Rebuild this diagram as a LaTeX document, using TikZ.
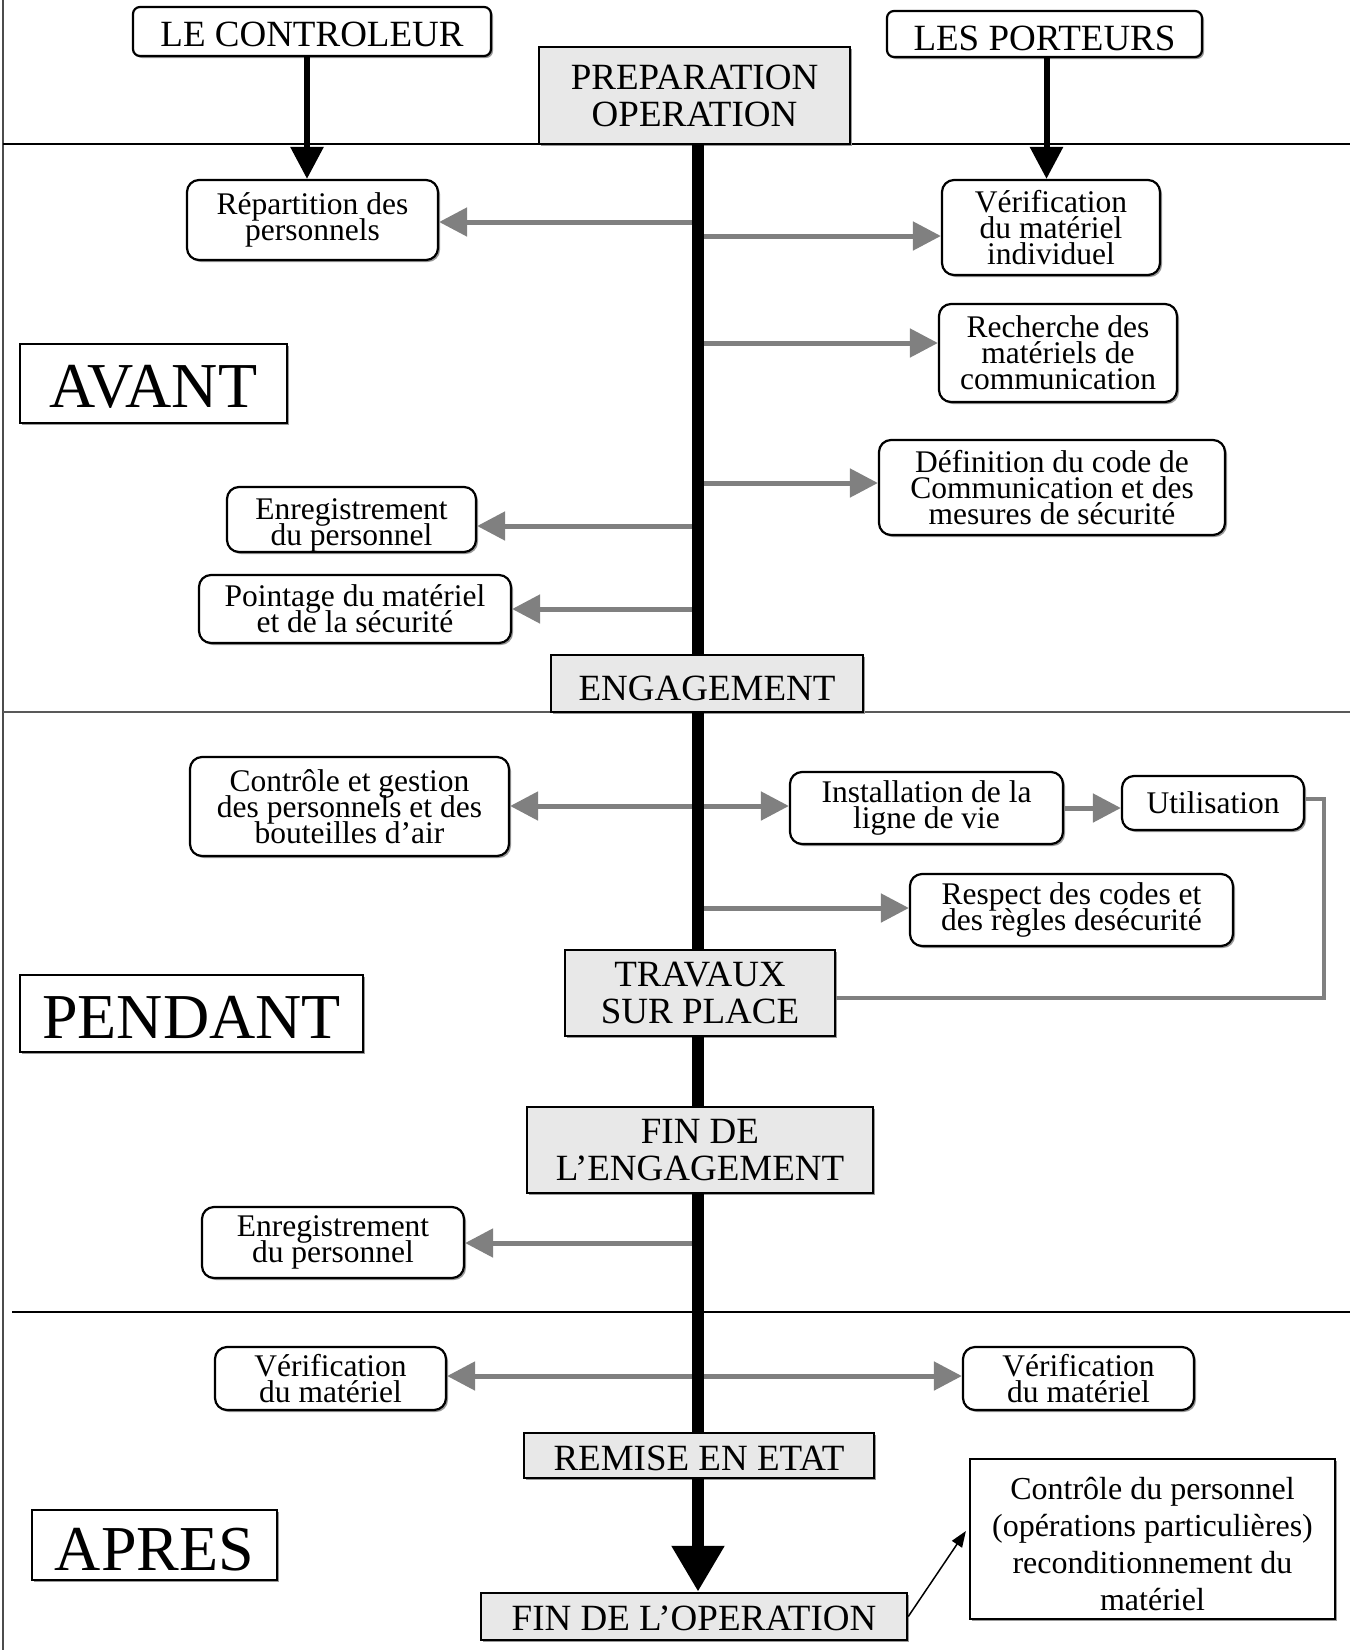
\documentclass[tikz,border=0pt]{standalone}
\usepackage{fontspec}
\setmainfont{Liberation Serif}
\usetikzlibrary{arrows.meta,shadows}
\definecolor{hgray}{HTML}{E8E8E8}
\definecolor{agray}{HTML}{808080}
\newcommand\myS{\fontsize{31.5}{26}\selectfont\lineskiplimit=-100pt\lineskip=0pt}
\newcommand\myH{\fontsize{37}{37}\selectfont\lineskiplimit=-100pt\lineskip=0pt}
\newcommand\myB{\fontsize{64}{64}\selectfont}
\newcommand\myC{\fontsize{32}{37}\selectfont\lineskiplimit=-100pt\lineskip=0pt}
\newcommand\dn[2]{\raisebox{-#1}[\height][\depth]{#2}}
\begin{document}
\begin{tikzpicture}[x=1pt,y=-1pt,
  shad/.style={drop shadow={shadow xshift=2pt,shadow yshift=-2pt,fill=black!40,opacity=1}},
  rbox/.style={draw,line width=2.2pt,rounded corners=12pt,fill=white,align=center,font=\myS,inner sep=0pt,shad},
  tbox/.style={draw,line width=2.2pt,rounded corners=7pt,fill=white,align=center,font=\myH,inner sep=0pt,shad},
  hbox/.style={draw,line width=2.5pt,fill=hgray,align=center,font=\myH,inner sep=0pt,shad},
  pbox/.style={draw,line width=2pt,fill=white,font=\myB,inner sep=0pt,shad},
  cbox/.style={draw,line width=2.2pt,fill=white,align=center,font=\myC,inner sep=0pt,shad},
  sepline/.style={line width=2pt},
  garrow/.style={draw=agray,line width=5pt,-{Triangle[length=28pt,width=28pt]},color=agray},
  gdouble/.style={draw=agray,line width=5pt,{Triangle[length=28pt,width=28pt]}-{Triangle[length=28pt,width=28pt]},color=agray},
  barrow/.style={line width=6pt,-{Triangle[length=32pt,width=32pt]}},
  spine/.style={line width=12pt},
  spinearrow/.style={line width=12pt,-{Triangle[length=46pt,width=50pt]}},
  thinarrow/.style={line width=1.5pt,-{Triangle[length=16pt,width=12pt]}},
  loopline/.style={draw=agray,line width=4pt}
]
\useasboundingbox (0,0) rectangle (1353,1650);
\fill[white] (0,0) rectangle (1353,1650);

% frame and separators
\draw[line width=1.2pt,black!70] (3,0) -- (3,1650);
\draw[sepline] (3,144) -- (1350,144);
\draw[sepline,black!65] (3,712) -- (1350,712);
\draw[sepline] (12,1312) -- (1350,1312);

% top boxes
\node[tbox,minimum width=358,minimum height=49] (lc) at (312,31.5) {\dn{3pt}{LE CONTROLEUR}};
\node[tbox,minimum width=315,minimum height=46] (lp) at (1044.5,34) {\dn{4pt}{LES PORTEURS}};
\node[hbox,minimum width=311,minimum height=97] (prep) at (694.5,95.5) {PREPARATION\\OPERATION};

% AVANT
\node[rbox,minimum width=251,minimum height=80] (rep) at (312.5,220) {Répartition des\\personnels};
\node[rbox,minimum width=218,minimum height=95] (vmi) at (1051,227.5) {Vérification\\du matériel\\individuel};
\node[rbox,minimum width=238,minimum height=98] (rmc) at (1058,353) {Recherche des\\matériels de\\communication};
\node[pbox,minimum width=267,minimum height=79] (avant) at (153.5,383.5) {\dn{3pt}{AVANT}};
\node[rbox,minimum width=346,minimum height=95] (def) at (1052,487.5) {Définition du code de\\Communication et des\\mesures de sécurité};
\node[rbox,minimum width=249,minimum height=65] (enr1) at (351.5,519.5) {\rule{0pt}{32pt}Enregistrement\\du personnel};
\node[rbox,minimum width=312,minimum height=68] (poi) at (355,609) {Pointage du matériel\\et de la sécurité};
\node[hbox,minimum width=312,minimum height=57] (eng) at (707,683.5) {\dn{5pt}{ENGAGEMENT}};

% PENDANT
\node[rbox,minimum width=319,minimum height=99] (ctrl) at (349.5,806.5) {Contrôle et gestion\\des personnels et des\\bouteilles d’air};
\node[rbox,minimum width=273,minimum height=72] (inst) at (926.5,808) {Installation de la\\ligne de vie};
\node[rbox,minimum width=182,minimum height=54] (util) at (1213,803) {Utilisation};
\node[rbox,minimum width=323,minimum height=72] (resp) at (1071.5,910) {Respect des codes et\\des règles desécurité};
\node[hbox,minimum width=270,minimum height=86] (trav) at (700,993) {TRAVAUX\\SUR PLACE};
\node[pbox,minimum width=343,minimum height=77] (pend) at (191.5,1013.5) {\dn{4pt}{PENDANT}};
\node[hbox,minimum width=346,minimum height=86] (fen) at (700,1150) {FIN DE\\L’ENGAGEMENT};
\node[rbox,minimum width=262,minimum height=71] (enr2) at (333,1242.5) {Enregistrement\\du personnel};

% APRES
\node[rbox,minimum width=231,minimum height=63] (vm1) at (330.5,1378.5) {Vérification\\du matériel};
\node[rbox,minimum width=231,minimum height=63] (vm2) at (1078.5,1378.5) {Vérification\\du matériel};
\node[hbox,minimum width=350,minimum height=45] (rem) at (699,1455.5) {\dn{3pt}{REMISE EN ETAT}};
\node[pbox,minimum width=245,minimum height=70] (apres) at (154.5,1545) {\dn{5pt}{APRES}};
\node[hbox,minimum width=426,minimum height=47] (fop) at (694,1616.5) {\dn{2pt}{FIN DE L’OPERATION}};
\node[cbox,minimum width=365,minimum height=160] (cdp) at (1152.5,1539) {\rule{0pt}{32pt}Contrôle du personnel\\(opérations particulières)\\reconditionnement du\\matériel};

% gray connectors
\coordinate (s1) at (698,222);  \draw[garrow] (s1) -- (s1 -| rep.east);
\coordinate (s2) at (704,236);  \draw[garrow] (s2) -- (s2 -| vmi.west);
\coordinate (s3) at (704,343);  \draw[garrow] (s3) -- (s3 -| rmc.west);
\coordinate (s4) at (704,483);  \draw[garrow] (s4) -- (s4 -| def.west);
\coordinate (s5) at (698,526);  \draw[garrow] (s5) -- (s5 -| enr1.east);
\coordinate (s6) at (698,609);  \draw[garrow] (s6) -- (s6 -| poi.east);
\coordinate (s7) at (0,806);    \draw[gdouble] (s7 -| ctrl.east) -- (s7 -| inst.west);
\coordinate (s8) at (0,808);    \draw[garrow] (s8 -| inst.east) -- (s8 -| util.west);
\coordinate (s9) at (704,908);  \draw[garrow] (s9) -- (s9 -| resp.west);
\coordinate (s10) at (698,1243); \draw[garrow] (s10) -- (s10 -| enr2.east);
\coordinate (s11) at (0,1376);  \draw[gdouble] (s11 -| vm1.east) -- (s11 -| vm2.west);
\draw[loopline] ([yshift=4pt]util.east) -- ++(19,0) |- ([yshift=-5pt]trav.east);

% spine
\coordinate (sp) at (698,0);
\draw[spine] (prep.south -| sp) -- (eng.north -| sp);
\draw[spine] (eng.south -| sp) -- (trav.north -| sp);
\draw[spine] (trav.south -| sp) -- (fen.north -| sp);
\draw[spine] (fen.south -| sp) -- (rem.north -| sp);
\draw[spinearrow] (rem.south -| sp) -- (fop.north -| sp);

% black arrows
\draw[barrow] ([xshift=-5pt]lc.south) -- ([xshift=-5pt]lc.south |- rep.north);
\draw[barrow] ([xshift=2pt]lp.south) -- ([xshift=2pt]lp.south |- vmi.north);
\draw[thinarrow] (fop.east) -- ([shift={(-3,-8)}]cdp.west);
\end{tikzpicture}
\end{document}
